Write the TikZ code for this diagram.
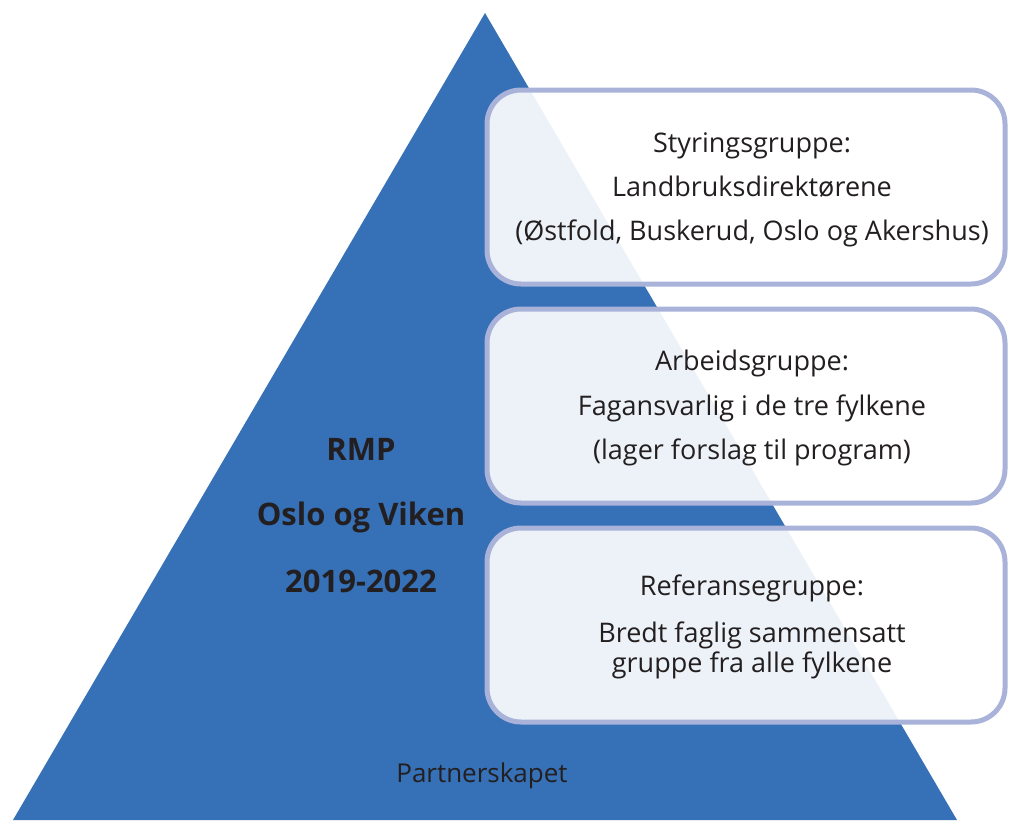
\documentclass[tikz,border=0pt]{standalone}
\usepackage{fontspec}
\setmainfont{Open Sans}
\usetikzlibrary{positioning}

\definecolor{rmpblue}{HTML}{3670B6}
\definecolor{groupline}{HTML}{A9B3DA}
\definecolor{darktext}{HTML}{231F20}

\tikzset{
  group/.style={draw=groupline, line width=5pt, rounded corners=34pt,
    fill=white, fill opacity=0.91, minimum width=518pt, minimum height=194pt},
  grouptext/.style={anchor=base, text=darktext, inner sep=0pt,
    font=\fontsize{27}{31}\selectfont},
  titletext/.style={anchor=base, text=darktext, inner sep=0pt,
    font=\fontsize{31}{37}\selectfont\bfseries},
}

\begin{document}
\begin{tikzpicture}[x=1pt, y=-1pt]
\useasboundingbox (0,0) rectangle (1009,820);

% Pyramid
\coordinate (apex) at (485,13);
\coordinate (baseL) at (13,820);
\coordinate (baseR) at (957,820);
\fill[rmpblue] (baseL) -- (apex) -- (baseR) -- cycle;

% Groups
\node[group] (styring) at (746,187) {};
\node[group] (arbeid) at (746,406) {};
\node[group] (referanse) at (746,625) {};

% Group texts
\node[grouptext] (styring1) at (752,152) {Styringsgruppe:};
\node[grouptext] (styring2) at (752,196) {Landbruksdirektørene};
\node[grouptext] (styring3) at (752,240) {(Østfold, Buskerud, Oslo og Akershus)};
\node[grouptext] (arbeid1) at (752,370) {Arbeidsgruppe:};
\node[grouptext] (arbeid2) at (752,415) {Fagansvarlig i de tre fylkene};
\node[grouptext] (arbeid3) at (752,459) {(lager forslag til program)};
\node[grouptext] (referanse1) at (752,595) {Referansegruppe:};
\node[grouptext] (referanse2) at (752,642) {Bredt faglig sammensatt};
\node[grouptext] (referanse3) at (752,672) {gruppe fra alle fylkene};

% Title
\node[titletext] (rmp) at (361,460) {RMP};
\node[titletext] (region) at (361,525) {Oslo og Viken};
\node[titletext] (period) at (361,592) {2019-2022};

% Bottom
\node[grouptext, font=\fontsize{26}{30}\selectfont] (partner) at (482,782) {Partnerskapet};
\end{tikzpicture}
\end{document}
